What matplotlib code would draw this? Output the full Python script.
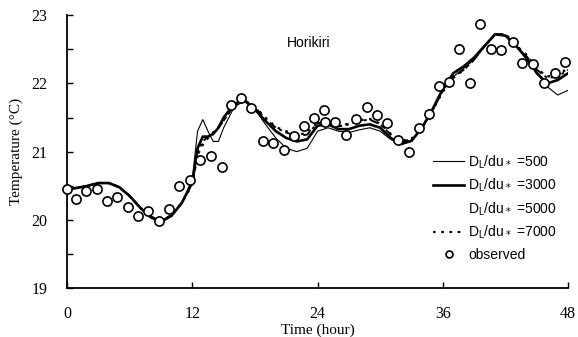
import numpy as np
import matplotlib.pyplot as plt
from matplotlib.lines import Line2D

# model time grid (hour)
t_model = [0, 1, 2, 3, 4, 5, 6, 7, 8, 9, 10, 11, 12, 12.5, 13, 13.5, 14, 14.5,
           15, 16, 17, 18, 19, 20, 21, 22, 23, 24, 25, 26, 27, 28, 29, 30, 31,
           32, 33, 34, 35, 36, 37, 38, 39, 40, 41, 42, 43, 44, 45, 46, 47, 48]

d500 = [20.45, 20.47, 20.50, 20.54, 20.54, 20.48, 20.35, 20.18, 20.05, 19.98, 20.07,
        20.25, 20.60, 21.30, 21.47, 21.30, 21.15, 21.15, 21.35, 21.65, 21.75, 21.62,
        21.40, 21.20, 21.05, 21.00, 21.05, 21.30, 21.35, 21.30, 21.28, 21.32, 21.35,
        21.30, 21.18, 21.10, 21.15, 21.35, 21.60, 21.90, 22.10, 22.22, 22.35, 22.55,
        22.72, 22.70, 22.55, 22.35, 22.15, 21.95, 21.83, 21.90]
d3000 = [20.45, 20.47, 20.50, 20.54, 20.54, 20.48, 20.35, 20.18, 20.04, 19.97, 20.06,
         20.25, 20.55, 21.05, 21.22, 21.22, 21.26, 21.35, 21.50, 21.70, 21.75, 21.62,
         21.45, 21.30, 21.20, 21.15, 21.18, 21.38, 21.40, 21.33, 21.33, 21.38, 21.40,
         21.35, 21.20, 21.12, 21.16, 21.35, 21.62, 21.92, 22.15, 22.25, 22.38, 22.55,
         22.72, 22.70, 22.55, 22.38, 22.15, 22.00, 22.05, 22.15]
d5000 = [20.45, 20.47, 20.50, 20.54, 20.54, 20.48, 20.35, 20.18, 20.05, 19.98, 20.07,
         20.25, 20.55, 21.00, 21.15, 21.22, 21.28, 21.35, 21.45, 21.68, 21.75, 21.65,
         21.48, 21.35, 21.28, 21.23, 21.25, 21.42, 21.42, 21.37, 21.40, 21.45, 21.47,
         21.40, 21.25, 21.15, 21.18, 21.35, 21.60, 21.90, 22.10, 22.20, 22.35, 22.55,
         22.72, 22.72, 22.55, 22.40, 22.20, 22.08, 22.10, 22.20]
d7000 = [20.45, 20.47, 20.50, 20.54, 20.54, 20.48, 20.35, 20.18, 20.05, 19.98, 20.07,
         20.25, 20.52, 20.95, 21.10, 21.20, 21.28, 21.36, 21.46, 21.68, 21.75, 21.66,
         21.50, 21.36, 21.30, 21.25, 21.27, 21.43, 21.43, 21.38, 21.41, 21.46, 21.48,
         21.41, 21.26, 21.16, 21.19, 21.36, 21.60, 21.88, 22.08, 22.20, 22.35, 22.55,
         22.72, 22.72, 22.56, 22.42, 22.22, 22.10, 22.13, 22.22]

t_obs = [0, 0.83, 1.82, 2.84, 3.86, 4.82, 5.81, 6.83, 7.79, 8.78, 9.8, 10.73, 11.78,
         12.74, 13.76, 14.8, 15.68, 16.67, 17.62, 18.74, 19.76, 20.75, 21.74, 22.73,
         23.69, 24.65, 24.75, 25.7, 26.72, 27.68, 28.7, 29.69, 30.68, 31.7, 32.73,
         33.72, 34.65, 35.64, 36.6, 37.55, 38.6, 39.56, 40.58, 41.54, 42.69, 43.58,
         44.67, 45.72, 46.71, 47.7]
T_obs = [20.45, 20.30, 20.43, 20.45, 20.27, 20.34, 20.19, 20.05, 20.13, 19.98, 20.16,
         20.49, 20.58, 20.88, 20.94, 20.78, 21.69, 21.79, 21.64, 21.15, 21.13, 21.03,
         21.23, 21.38, 21.50, 21.61, 21.43, 21.43, 21.25, 21.48, 21.66, 21.53, 21.42,
         21.17, 20.99, 21.34, 21.55, 21.96, 22.02, 22.51, 22.00, 22.87, 22.50, 22.49,
         22.61, 22.30, 22.29, 22.01, 22.15, 22.31]

x_ticks = [0, 12, 24, 36, 48]
y_ticks = [19, 20, 21, 22, 23]

serif = "Liberation Serif"
sans = "Liberation Sans"

fig = plt.figure(figsize=(5.78, 3.37), dpi=100)
ax = fig.add_axes([0.116, 0.145, 0.867, 0.81])

ax.plot(t_model, d500, color="black", lw=0.8)
ax.plot(t_model, d3000, color="black", lw=1.9)
ax.plot(t_model, d5000, color="black", lw=1.4, ls=(0, (4, 2, 1.5, 2)))
ax.plot(t_model, d7000, color="black", lw=1.6, ls=(0, (1.2, 2.5)))
ax.plot(t_obs, T_obs, ls="none", marker="o", ms=6.6, mfc="white", mec="black", mew=1.2,
        clip_on=False, zorder=5)

ax.set_xlim(0, 48)
ax.set_ylim(19, 23)
ax.spines["top"].set_visible(False)
ax.spines["right"].set_visible(False)
ax.spines["left"].set_linewidth(1.3)
ax.spines["bottom"].set_linewidth(1.3)
ax.set_xticks(x_ticks)
ax.set_yticks(y_ticks)
ax.set_yticks(np.arange(19.5, 23, 1.0), minor=True)
ax.tick_params(direction="in", length=4, width=1, labelsize=11.5)
ax.tick_params(axis="x", pad=13)
ax.tick_params(axis="y", pad=14)
ax.tick_params(which="minor", direction="in", length=4, width=1)
for lab in ax.get_xticklabels() + ax.get_yticklabels():
    lab.set_fontfamily(serif)

ax.set_xlabel("Time (hour)", fontfamily=serif, fontsize=11, labelpad=1)
ax.set_ylabel("Temperature (°C)", fontfamily=serif, fontsize=11, labelpad=6)
ax.text(23.1, 22.59, "Horikiri", fontfamily=sans, fontsize=10, ha="center", va="center")

handles = [
    Line2D([], [], color="black", lw=0.8),
    Line2D([], [], color="black", lw=1.9),
    Line2D([], [], color="none", lw=0),
    Line2D([], [], color="black", lw=1.6, ls=(0, (1.2, 2.5))),
    Line2D([], [], ls="none", marker="o", ms=5, mfc="white", mec="black", mew=1.2),
]
labels = [r"D$_\mathregular{L}$/du$_*$ =500", r"D$_\mathregular{L}$/du$_*$ =3000",
          r"D$_\mathregular{L}$/du$_*$ =5000", r"D$_\mathregular{L}$/du$_*$ =7000",
          "observed"]
leg = ax.legend(handles, labels, loc="upper left", bbox_to_anchor=(0.72, 0.515),
                frameon=False, handlelength=2.2, handletextpad=0.3, labelspacing=0.45,
                borderaxespad=0, prop={"family": sans, "size": 10})

fig.savefig("out.png", dpi=100)
